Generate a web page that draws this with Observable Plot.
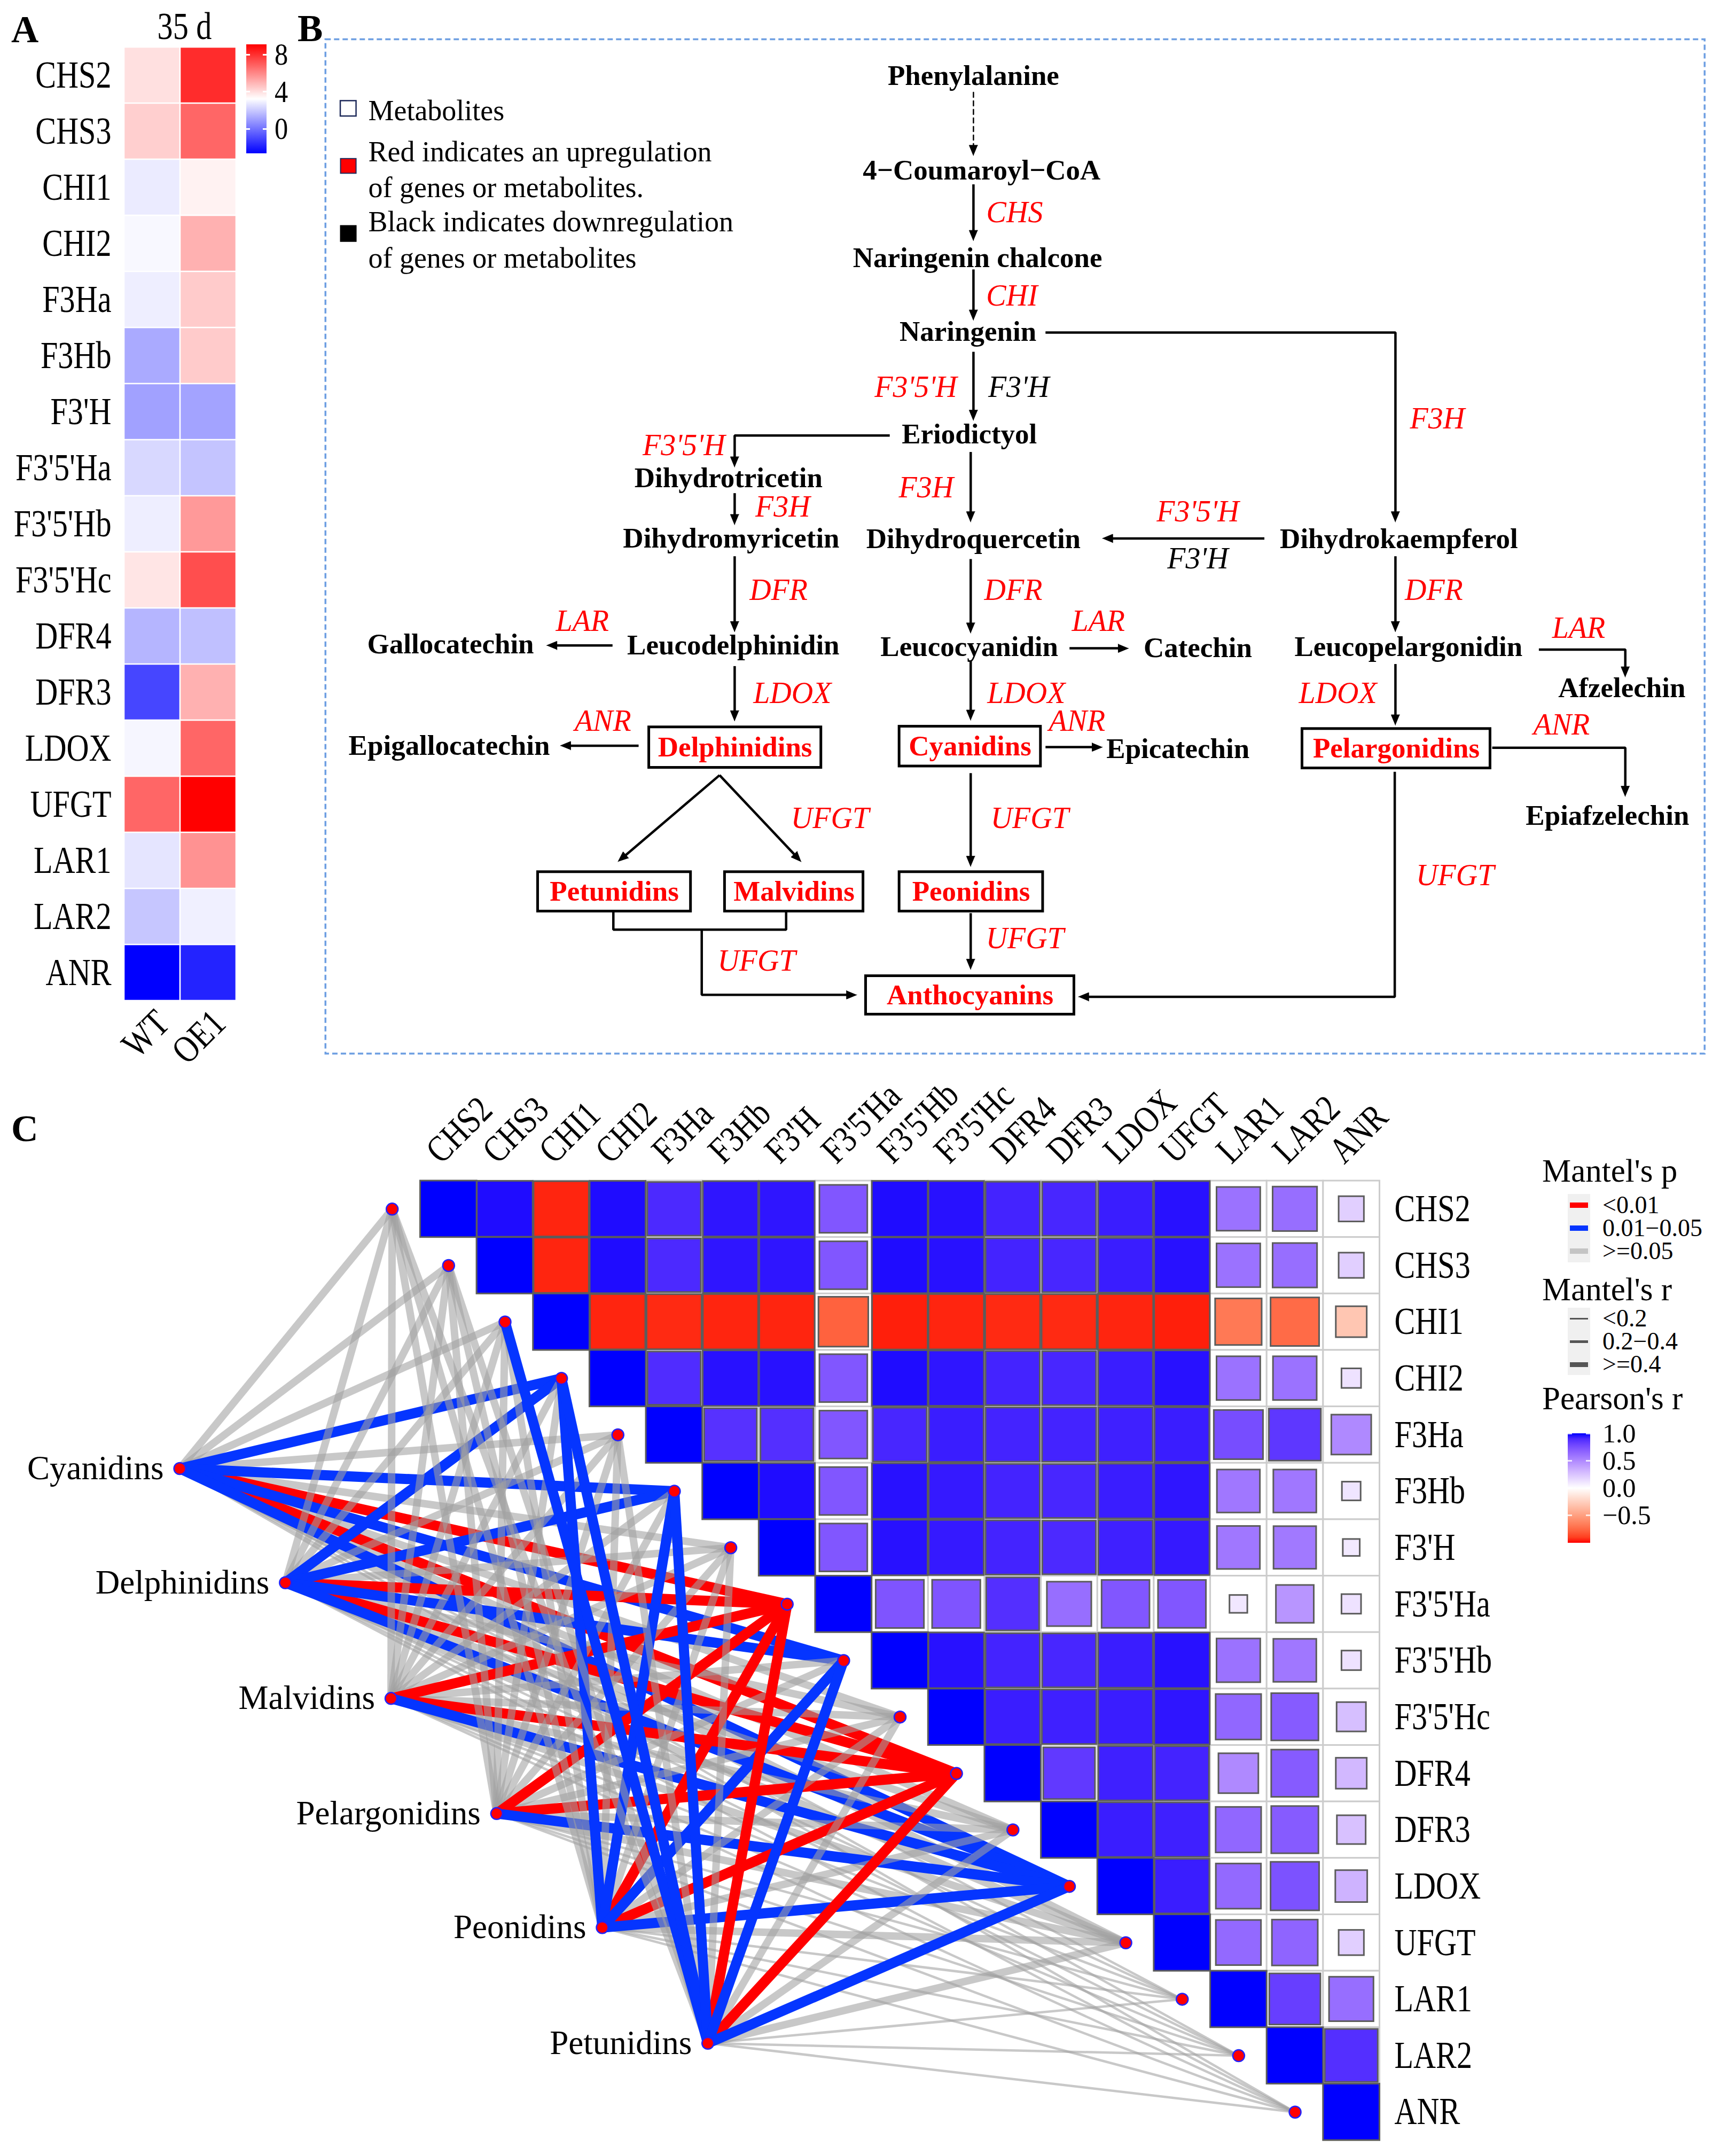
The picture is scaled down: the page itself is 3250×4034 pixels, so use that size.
<!DOCTYPE html>
<html>
<head>
<meta charset="utf-8">
<script src="https://cdn.jsdelivr.net/npm/d3@7"></script>
<script src="https://cdn.jsdelivr.net/npm/@observablehq/plot@0.6"></script>
<style>
html,body{margin:0;padding:0;background:#fff;}
#fig{position:relative;width:3250px;height:4034px;overflow:hidden;background:#fff;font-family:'Liberation Serif','Times New Roman',Times,serif;color:#000;}
.abs{position:absolute;white-space:nowrap;}
#fig svg{display:block;max-width:none;}
</style>
</head>
<body>
<div id="fig"></div>
<script>
// ======================= DATA =======================
const genes = ["CHS2","CHS3","CHI1","CHI2","F3Ha","F3Hb","F3'H","F3'5'Ha","F3'5'Hb","F3'5'Hc","DFR4","DFR3","LDOX","UFGT","LAR1","LAR2","ANR"];

// Panel A : expression heatmap (35 d)
const samplesA = ["WT", "OE1"];
const expressionWT  = [3.95, 4.35, 2.8, 3.1, 2.85, 1.3, 1.1, 2.35, 2.85, 3.85, 1.55, -1.0, 3.05, 6.75, 2.65, 1.95, -2.6];
const expressionOE1 = [8.1, 6.75, 3.55, 5.05, 4.45, 4.45, 1.15, 1.9, 5.6, 7.3, 1.8, 5.05, 6.75, 9.1, 5.75, 2.9, -1.8];
const expressionRange = [-2.6, 9.1];
const expressionTicks = [8, 4, 0];
const panelATitle = "35 d";

// Panel B : pathway
const pathwayCompounds = ["Phenylalanine","4−Coumaroyl−CoA","Naringenin chalcone","Naringenin","Eriodictyol","Dihydrotricetin","Dihydromyricetin","Dihydroquercetin","Dihydrokaempferol","Gallocatechin","Leucodelphinidin","Leucocyanidin","Catechin","Leucopelargonidin","Afzelechin","Epigallocatechin","Epicatechin","Epiafzelechin"];
const measuredMetabolites = ["Delphinidins","Cyanidins","Pelargonidins","Petunidins","Malvidins","Peonidins","Anthocyanins"];
const enzymeLabels = ["CHS","CHI","F3'5'H","F3'H","F3H","F3'5'H","F3H","F3H","F3'5'H","F3'H","DFR","DFR","DFR","LAR","LAR","LAR","LDOX","LDOX","LDOX","ANR","ANR","ANR","UFGT","UFGT","UFGT","UFGT","UFGT"];
const enzymeRegulation = ["up","up","up","down","up","up","up","up","up","down","up","up","up","up","up","up","up","up","up","up","up","up","up","up","up","up","up"];
const legendTextB = ["Metabolites","Red indicates an upregulation","of genes or metabolites.","Black indicates downregulation","of genes or metabolites"];
const legendSwatchB = ["metabolite","up","down"];

// Panel C : Mantel network + Pearson correlation matrix
const metabolitesC = ["Cyanidins","Delphinidins","Malvidins","Pelargonidins","Peonidins","Petunidins"];
const pearsonUpper = [
  [1, 0.98, -0.96, 0.98, 0.9, 0.96, 0.96, 0.72, 0.98, 0.97, 0.92, 0.91, 0.94, 0.97, 0.6, 0.62, 0.2],
  [1, -0.96, 0.98, 0.9, 0.96, 0.96, 0.72, 0.98, 0.97, 0.92, 0.91, 0.94, 0.97, 0.6, 0.62, 0.2],
  [1, -0.96, -0.95, -0.96, -0.96, -0.78, -0.97, -0.96, -0.95, -0.95, -0.96, -0.97, -0.68, -0.74, -0.3],
  [1, 0.89, 0.97, 0.97, 0.72, 0.98, 0.96, 0.92, 0.91, 0.94, 0.97, 0.6, 0.6, 0.12],
  [1, 0.87, 0.88, 0.72, 0.91, 0.94, 0.92, 0.92, 0.93, 0.94, 0.76, 0.85, 0.5],
  [1, 0.98, 0.72, 0.97, 0.95, 0.92, 0.91, 0.94, 0.96, 0.58, 0.58, 0.11],
  [1, 0.72, 0.97, 0.95, 0.92, 0.9, 0.93, 0.95, 0.58, 0.57, 0.09],
  [1, 0.73, 0.73, 0.88, 0.62, 0.72, 0.72, 0.1, 0.45, 0.12],
  [1, 0.97, 0.92, 0.91, 0.94, 0.97, 0.6, 0.58, 0.12],
  [1, 0.94, 0.93, 0.94, 0.96, 0.65, 0.7, 0.27],
  [1, 0.84, 0.93, 0.92, 0.5, 0.7, 0.3],
  [1, 0.94, 0.93, 0.65, 0.7, 0.26],
  [1, 0.94, 0.64, 0.74, 0.32],
  [1, 0.64, 0.66, 0.2],
  [1, 0.82, 0.62],
  [1, 0.88],
  [1]
];
// Mantel's p class per metabolite x gene: r = <0.01, b = 0.01-0.05, g = >=0.05
const mantelP = [
  "gggbgbgrbgrgbgggg".split(""),
  "gggbgbgrbgrgbgggg".split(""),
  "gggggggrggrgbgggg".split(""),
  "gggggggrggrgbgggg".split(""),
  "gggbgbgrbgrgbgggg".split(""),
  "ggbbgbgrbgrgbgggg".split("")
];
// Mantel's r class: 0 = <0.2, 1 = 0.2-0.4, 2 = >=0.4
const mantelR = [
  [1,1,1,2,1,2,1,2,2,1,2,1,2,1,0,0,0],
  [1,1,1,2,1,2,1,2,2,1,2,1,2,1,0,0,0],
  [1,1,1,1,1,1,1,2,1,1,2,1,2,1,0,0,0],
  [1,1,1,1,1,1,1,2,1,1,2,1,2,1,0,0,0],
  [1,1,1,2,1,2,1,2,2,1,2,1,2,1,0,0,0],
  [1,1,2,2,1,2,1,2,2,1,2,1,2,1,0,0,0]
];
const mantelPLevels = ["<0.01", "0.01−0.05", ">=0.05"];
const mantelRLevels = ["<0.2", "0.2−0.4", ">=0.4"];
const pearsonTicks = [1.0, 0.5, 0.0, -0.5];

// ======================= LAYOUT & STYLE =======================
const FONT = "'Liberation Serif','Times New Roman',Times,serif";
const K = 3250 / 1265; // diagram unit -> px
const layoutB = {
  x0: 233, x1: 1249, y0: 24, y1: 775,
  frame: {x1: 237, y1: 28.5, x2: 1242, y2: 767.5},
  compoundPos: [[709,55],[715,124],[712,187.5],[705,241.5],[706,316],[530.5,348],[532.5,392],[709,392.5],[1019,392.5],[328,469],[534,470],[706,471],[872.5,472],[1026,471],[1181.5,501],[327,543],[858,545.5],[1171,594]],
  boxes: [[472.6,529.5,598,559],[655,529,758,558],[948.6,530.7,1085.6,559.4],[391.6,635,503,663.7],[527.8,635,628.7,663.7],[655,635,759.6,663.7],[630.6,710.8,782.4,738.8]],
  enzymePos: [[739,154.5],[737,215.5],[667,282],[742,282],[1047,305],[498,324.5],[570,369],[674.5,355],[872.5,372.5],[872.5,407],[567,430],[738,430],[1044.5,430],[424,452.5],[800,452.5],[1150,457.5],[577,505],[747.5,505],[974.5,505],[439,525],[784.5,525],[1137.5,528],[604.5,596],[750,596],[1060,637.5],[746.5,683.5],[551,700]],
  arrows: [
    {pts:[[709,67],[709,113]], dashed:true},
    {pts:[[709,134],[709,175]]},
    {pts:[[709,196],[709,233]]},
    {pts:[[709,256],[709,306]]},
    {pts:[[761.5,242],[1016.5,242],[1016.5,380]]},
    {pts:[[648,317],[535,317],[535,340]]},
    {pts:[[535,359],[535,382]]},
    {pts:[[707,329],[707,380]]},
    {pts:[[921,392],[803,392]]},
    {pts:[[535,405],[535,460]]},
    {pts:[[707,407],[707,461]]},
    {pts:[[1016.5,405],[1016.5,460]]},
    {pts:[[446,470],[398,470]]},
    {pts:[[779,472],[822,472]]},
    {pts:[[1121,473],[1184,473],[1184,493]]},
    {pts:[[535,485],[535,525]]},
    {pts:[[707,481],[707,524.5]]},
    {pts:[[1016.5,483.5],[1016.5,528]]},
    {pts:[[465,543],[408,543]]},
    {pts:[[761.5,544],[803,544]]},
    {pts:[[1087,544.5],[1184,544.5],[1184,580]]},
    {pts:[[524,564.5],[450,627.5]]},
    {pts:[[524,564.5],[583.5,627.5]]},
    {pts:[[707,563],[707,631]]},
    {pts:[[707,665],[707,706]]},
    {pts:[[1016,562],[1016,726],[785.5,726]]},
    {pts:[[446.6,664],[446.6,677],[572.5,677],[572.5,664]], head:false},
    {pts:[[511,677],[511,724.5],[624,724.5]]}
  ],
  legendTextX: 268,
  legendTextY: [80.7, 110.5, 136.5, 161.4, 187.9],
  legendSwatch: [[247.8,73.2,259.3,84.4],[248,115.4,259.3,126.1],[248,164.3,259.3,175.7]],
  fontSize: 53, enzymeFontSize: 56
};
const layoutC = {
  top: 1990, width: 2880, height: 2044,
  cellPx: 105.65, originX: 786.5, originY: 2210,
  metabolitePos: [[-4.263,5.097],[-2.392,7.12],[-0.52,9.17],[1.352,11.21],[3.223,13.23],[5.094,15.28]],
  rowLabelX: 17.26, colLabelDx: -0.28, colLabelY: -0.43
};
const pColors = {r: "#FF0000", b: "#0535FF", g: "#a0a0a0"};
const rWidths = [4.5, 14, 19];

// ======================= HELPERS =======================
const fig = document.getElementById("fig");
function put(node, left, top) {
  node.style.position = "absolute"; node.style.left = left + "px"; node.style.top = top + "px";
  fig.appendChild(node); return node;
}
function label(txt, x, baseline, size, o = {}) {
  const d = document.createElement("div");
  const lh = o.lineHeight || size;
  d.className = "abs";
  d.textContent = txt;
  d.style.fontSize = size + "px";
  d.style.lineHeight = lh + "px";
  d.style.top = (baseline - ((lh - 1.107 * size) / 2 + 0.891 * size)) + "px";
  d.style.left = x + "px";
  if (o.weight) d.style.fontWeight = o.weight;
  if (o.anchor === "end") d.style.transform = "translateX(-100%)";
  fig.appendChild(d); return d;
}
function box(x, y, w, h, css) {
  const d = document.createElement("div"); d.className = "abs";
  Object.assign(d.style, {left: x + "px", top: y + "px", width: w + "px", height: h + "px"}, css);
  fig.appendChild(d); return d;
}
function squish(svg, sx, filter) {
  svg.querySelectorAll("text").forEach(t => {
    if (filter && !filter(t.textContent)) return;
    const tr = t.getAttribute("transform") || "";
    const x = parseFloat(t.getAttribute("x") || 0), y = parseFloat(t.getAttribute("y") || 0);
    t.setAttribute("transform", `${tr} translate(${x},${y}) scale(${sx},1) translate(${-x},${-y})`);
  });
}

// ======================= PANEL A =======================
const A = {left: 232, right: 442, top: 83, bottom: 1877, width: 600, height: 2000};
const dataA = genes.flatMap((g, i) => [
  {gene: g, sample: samplesA[0], value: expressionWT[i]},
  {gene: g, sample: samplesA[1], value: expressionOE1[i]}
]);
const midA = (expressionRange[0] + expressionRange[1]) / 2;
const plotA = Plot.plot({
  width: A.width, height: A.height,
  marginLeft: A.left, marginRight: A.width - A.right, marginTop: A.top, marginBottom: A.height - A.bottom,
  style: {fontFamily: FONT, fontSize: "71px", background: "transparent", maxWidth: "none", overflow: "visible", color: "black"},
  x: {domain: samplesA, padding: 0},
  y: {domain: genes, padding: 0},
  color: {type: "linear", domain: [expressionRange[0], midA, expressionRange[1]], range: ["#0000FF", "#FFFFFF", "#FF0000"], interpolate: d3.interpolateRgb},
  marks: [
    Plot.cell(dataA, {x: "sample", y: "gene", fill: "value", inset: 1.3}),
    Plot.axisY({anchor: "left", tickSize: 0, tickPadding: 24, fontSize: 71, label: null}),
    Plot.axisX({anchor: "bottom", tickSize: 0, tickPadding: 26, tickRotate: -45, fontSize: 71, dx: 20, label: null}),
    Plot.text([panelATitle], {text: d => d, frameAnchor: "top", lineAnchor: "middle", dy: -33, dx: 8, fontSize: 71})
  ]
});
squish(plotA, 0.82);
put(plotA, 0, 0);

// Panel A colour legend
const aColor = d3.scaleLinear().domain([expressionRange[0], midA, expressionRange[1]]).range(["#0000FF", "#FFFFFF", "#FF0000"]);
const aLeg = {left: 461, top: 83, width: 38, height: 204};
const aY = d3.scaleLinear().domain([expressionRange[1], expressionRange[0]]).range([aLeg.top, aLeg.top + aLeg.height]);
const aStops = d3.range(0, 21).map(k => `${aColor(expressionRange[1] - k / 20 * (expressionRange[1] - expressionRange[0]))} ${k * 5}%`);
box(aLeg.left, aLeg.top, aLeg.width, aLeg.height, {background: `linear-gradient(to bottom, ${aStops.join(",")})`});
expressionTicks.forEach(v => {
  const y = aY(v);
  box(aLeg.left, y - 1.5, 7, 3, {background: "#fff"});
  box(aLeg.left + aLeg.width - 7, y - 1.5, 7, 3, {background: "#fff"});
  const l = label(String(v), aLeg.left + aLeg.width + 15, y + 0.33 * 56, 56, {lineHeight: 50});
  l.style.transform = "scaleX(0.9)"; l.style.transformOrigin = "left";
});

// ======================= PANEL B =======================
const WB = (layoutB.x1 - layoutB.x0) * K, HB = (layoutB.y1 - layoutB.y0) * K;
const arrowLines = [], dashedLines = [], arrowHeads = [];
layoutB.arrows.forEach((a, id) => {
  const pts = a.pts.map(p => p.slice());
  const hasHead = a.head !== false;
  if (hasHead) {
    const tip = pts[pts.length - 1], prev = pts[pts.length - 2];
    const dx = tip[0] - prev[0], dy = tip[1] - prev[1], L = Math.hypot(dx, dy);
    const ux = dx / L, uy = dy / L, len = 7.5, half = 3.1;
    const bx = tip[0] - ux * len, by = tip[1] - uy * len;
    [[tip[0], tip[1]], [bx - uy * half, by + ux * half], [bx + uy * half, by - ux * half]]
      .forEach(([x, y]) => arrowHeads.push({id, x, y}));
    pts[pts.length - 1] = [tip[0] - ux * len * 0.6, tip[1] - uy * len * 0.6];
  }
  pts.forEach(([x, y]) => (a.dashed ? dashedLines : arrowLines).push({id, x, y}));
});
const compoundData = pathwayCompounds.map((name, i) => ({name, x: layoutB.compoundPos[i][0], y: layoutB.compoundPos[i][1]}));
const boxData = measuredMetabolites.map((name, i) => {
  const [x1, y1, x2, y2] = layoutB.boxes[i];
  return {name, x1, y1, x2, y2, cx: (x1 + x2) / 2, cy: (y1 + y2) / 2};
});
const enzymeData = enzymeLabels.map((name, i) => ({name, reg: enzymeRegulation[i], x: layoutB.enzymePos[i][0], y: layoutB.enzymePos[i][1]}));
const swatchData = legendSwatchB.map((kind, i) => {
  const [x1, y1, x2, y2] = layoutB.legendSwatch[i];
  return {kind, x1, y1, x2, y2};
});
const legendBData = legendTextB.map((t, i) => ({t, y: layoutB.legendTextY[i]}));

const plotB = Plot.plot({
  width: WB, height: HB, margin: 0,
  x: {type: "linear", domain: [layoutB.x0, layoutB.x1], range: [0, WB], axis: null},
  y: {type: "linear", domain: [layoutB.y0, layoutB.y1], range: [0, HB], axis: null},
  style: {fontFamily: FONT, background: "transparent", maxWidth: "none", overflow: "visible", color: "black"},
  marks: [
    Plot.rect([layoutB.frame], {x1: "x1", y1: "y1", x2: "x2", y2: "y2", fill: "none", stroke: "#6e9fe2", strokeWidth: 3.5, strokeDasharray: "10,6"}),
    Plot.line(arrowLines, {x: "x", y: "y", z: "id", stroke: "black", strokeWidth: 4.5, strokeLinejoin: "miter", strokeLinecap: "butt"}),
    Plot.line(dashedLines, {x: "x", y: "y", z: "id", stroke: "black", strokeWidth: 2.5, strokeDasharray: "9,7"}),
    Plot.line(arrowHeads, {x: "x", y: "y", z: "id", fill: "black", stroke: "black", strokeWidth: 1, strokeLinejoin: "miter"}),
    Plot.rect(boxData, {x1: "x1", y1: "y1", x2: "x2", y2: "y2", fill: "white", stroke: "black", strokeWidth: 5}),
    Plot.text(compoundData, {x: "x", y: "y", text: "name", fontWeight: "bold", fontSize: layoutB.fontSize, fill: "black"}),
    Plot.text(boxData, {x: "cx", y: "cy", text: "name", fontWeight: "bold", fontSize: layoutB.fontSize, fill: "#FF0000"}),
    Plot.text(enzymeData.filter(d => d.reg === "up"), {x: "x", y: "y", text: "name", fontStyle: "italic", fontSize: layoutB.enzymeFontSize, fill: "#FF0000"}),
    Plot.text(enzymeData.filter(d => d.reg === "down"), {x: "x", y: "y", text: "name", fontStyle: "italic", fontSize: layoutB.enzymeFontSize, fill: "black"}),
    Plot.rect(swatchData.filter(d => d.kind === "metabolite"), {x1: "x1", y1: "y1", x2: "x2", y2: "y2", fill: "white", stroke: "#1e2a5a", strokeWidth: 2.5}),
    Plot.rect(swatchData.filter(d => d.kind === "up"), {x1: "x1", y1: "y1", x2: "x2", y2: "y2", fill: "#FF0000", stroke: "#1e2a5a", strokeWidth: 2}),
    Plot.rect(swatchData.filter(d => d.kind === "down"), {x1: "x1", y1: "y1", x2: "x2", y2: "y2", fill: "black", stroke: "black", strokeWidth: 2}),
    Plot.text(legendBData, {x: layoutB.legendTextX, y: "y", text: "t", textAnchor: "start", fontSize: 54, fill: "black"})
  ]
});
put(plotB, layoutB.x0 * K, layoutB.y0 * K);

// ======================= PANEL C =======================
const cp = layoutC.cellPx, ox = layoutC.originX, oy = layoutC.originY - layoutC.top;
const CW = layoutC.width, CH = layoutC.height;
const cellsC = [];
pearsonUpper.forEach((row, i) => row.forEach((r, k) => cellsC.push({i, j: i + k, r})));
const edges = [];
metabolitesC.forEach((m, k) => genes.forEach((g, i) => edges.push({k, i, p: mantelP[k][i], rc: mantelR[k][i]})));
const mp = layoutC.metabolitePos;
const edgeOpts = (stroke, extra = {}) => ({
  x1: d => mp[d.k][0], y1: d => mp[d.k][1], x2: d => d.i - 0.5, y2: d => d.i + 0.5,
  stroke, strokeWidth: d => rWidths[d.rc], ...extra
});
const edgeMarks = [];
metabolitesC.forEach((m, k) => {
  edgeMarks.push(Plot.link(edges.filter(e => e.k === k && e.p === "g"), edgeOpts(pColors.g, {strokeOpacity: 0.58})));
  edgeMarks.push(Plot.link(edges.filter(e => e.k === k && e.p === "r"), edgeOpts(pColors.r)));
  edgeMarks.push(Plot.link(edges.filter(e => e.k === k && e.p === "b"), edgeOpts(pColors.b)));
});
const side = d => Math.sqrt(Math.abs(d.r));
const plotC = Plot.plot({
  width: CW, height: CH, margin: 0,
  x: {type: "linear", domain: [-ox / cp, (CW - ox) / cp], range: [0, CW], axis: null},
  y: {type: "linear", domain: [-oy / cp, (CH - oy) / cp], range: [0, CH], axis: null},
  color: {type: "linear", domain: [-1, 0, 1], range: ["#FF0000", "#FFFFFF", "#0000FF"], interpolate: d3.interpolateLab},
  style: {fontFamily: FONT, background: "transparent", maxWidth: "none", overflow: "visible", color: "black"},
  marks: [
    Plot.rect(cellsC, {x1: d => d.j, x2: d => d.j + 1, y1: d => d.i, y2: d => d.i + 1, fill: "white", stroke: "#cccccc", strokeWidth: 3}),
    Plot.rect(cellsC, {x1: d => d.j + 0.5 - side(d) / 2, x2: d => d.j + 0.5 + side(d) / 2,
                       y1: d => d.i + 0.5 - side(d) / 2, y2: d => d.i + 0.5 + side(d) / 2,
                       fill: "r", stroke: "#5c5c5c", strokeWidth: 3}),
    ...edgeMarks,
    Plot.dot(genes, {x: (d, i) => i - 0.5, y: (d, i) => i + 0.5, r: 11, fill: "#FF0000", stroke: "#2222FF", strokeWidth: 2.5}),
    Plot.dot(metabolitesC, {x: (d, i) => mp[i][0], y: (d, i) => mp[i][1], r: 11, fill: "#FF0000", stroke: "#2222FF", strokeWidth: 2.5}),
    Plot.text(metabolitesC, {x: (d, i) => mp[i][0], y: (d, i) => mp[i][1], text: d => d, textAnchor: "end", dx: -30, fontSize: 63, fill: "black"}),
    Plot.text(genes, {x: () => layoutC.rowLabelX, y: (d, i) => i + 0.5, text: d => d, textAnchor: "start", fontSize: 71, fill: "black"}),
    Plot.text(genes, {x: (d, i) => i + 0.5 + layoutC.colLabelDx, y: () => layoutC.colLabelY, text: d => d, textAnchor: "start", rotate: -45, fontSize: 70, fill: "black"})
  ]
});
const geneSet = new Set(genes);
squish(plotC, 0.82, t => geneSet.has(t));
put(plotC, 0, layoutC.top);

// Panel C legends
const legC = {x: 2887, swX: 2935, swW: 42, textX: 3000, itemSize: 46, itemLH: 40,
  pTitle: 2212, pRows: [2256, 2299, 2342], pBox: [2235, 2363],
  rTitle: 2434, rRows: [2468, 2511, 2554], rBox: [2448, 2574],
  cTitle: 2638, barTop: 2683, barBottom: 2888};
label("Mantel's p", legC.x, legC.pTitle, 61);
box(legC.swX, legC.pBox[0], legC.swW, legC.pBox[1] - legC.pBox[0], {background: "#f0f0f0"});
const pKeys = ["r", "b", "g"];
mantelPLevels.forEach((t, i) => {
  const y = legC.pRows[i];
  box(legC.swX + 4, y - 5, legC.swW - 8, 10, {background: pColors[pKeys[i]], opacity: pKeys[i] === "g" ? 0.55 : 1});
  label(t, legC.textX, y + 0.33 * legC.itemSize, legC.itemSize, {lineHeight: legC.itemLH});
});
label("Mantel's r", legC.x, legC.rTitle, 61);
box(legC.swX, legC.rBox[0], legC.swW, legC.rBox[1] - legC.rBox[0], {background: "#f0f0f0"});
const rLegW = [3, 5, 9];
mantelRLevels.forEach((t, i) => {
  const y = legC.rRows[i];
  box(legC.swX + 4, y - rLegW[i] / 2, legC.swW - 8, rLegW[i], {background: "#555555"});
  label(t, legC.textX, y + 0.33 * legC.itemSize, legC.itemSize, {lineHeight: legC.itemLH});
});
label("Pearson's r", legC.x, legC.cTitle, 61);
const cColor = d3.scaleLinear().domain([-1, 0, 1]).range(["#FF0000", "#FFFFFF", "#0000FF"]).interpolate(d3.interpolateLab);
const cY = d3.scaleLinear().domain([1, -1]).range([legC.barTop, legC.barBottom]);
const cStops = d3.range(0, 21).map(k => `${cColor(1 - k / 10)} ${k * 5}%`);
box(legC.swX, legC.barTop, legC.swW, legC.barBottom - legC.barTop, {background: `linear-gradient(to bottom, ${cStops.join(",")})`});
pearsonTicks.forEach(v => {
  const y = cY(v);
  box(legC.swX, y - 1.5, 8, 3, {background: "rgba(255,255,255,0.8)"});
  box(legC.swX + legC.swW - 8, y - 1.5, 8, 3, {background: "rgba(255,255,255,0.8)"});
  label(v < 0 ? "−" + Math.abs(v).toFixed(1) : v.toFixed(1), legC.textX, y + 0.33 * 50, 50, {lineHeight: 46});
});

// Panel letters
label("A", 21, 79, 71, {weight: "bold"});
label("B", 557, 77, 71, {weight: "bold"});
label("C", 21, 2137, 70, {weight: "bold"});
</script>
</body>
</html>
